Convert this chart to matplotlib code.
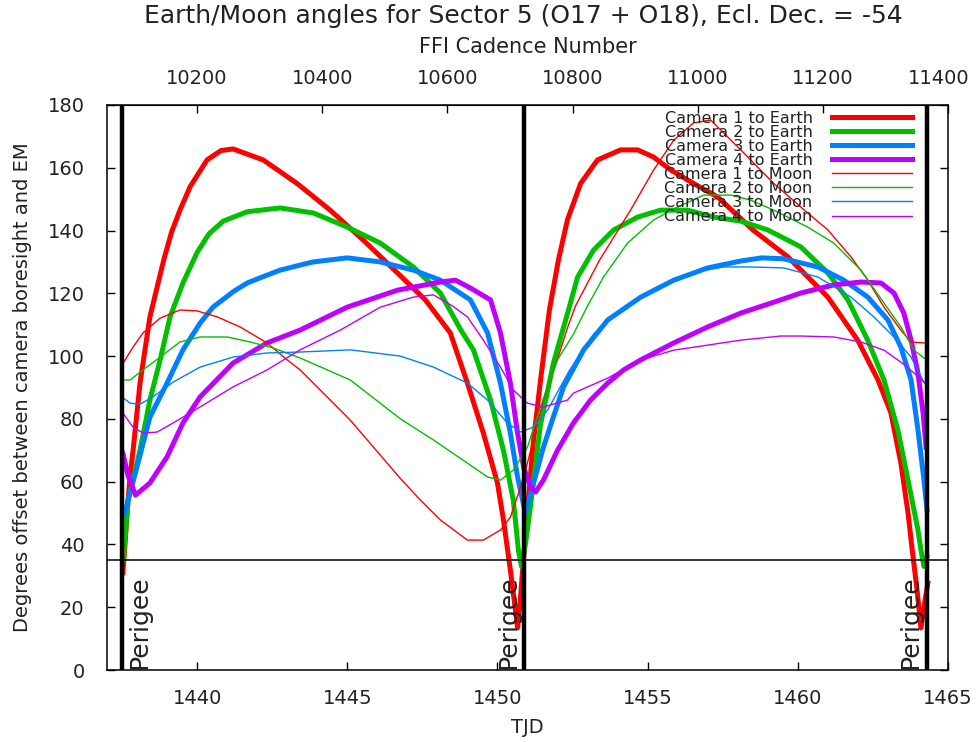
import numpy as np
import matplotlib as mpl
mpl.use("Agg")
import matplotlib.pyplot as plt
import matplotlib.transforms as mtransforms

mpl.rcParams['font.family'] = ['DejaVu Sans']

# camera -> Earth angles (thick), TJD / degrees
t_e1 = [1437.53, 1437.60, 1437.67, 1437.77, 1437.87, 1438.10, 1438.43, 1438.67, 1438.90,
        1439.15, 1439.43, 1439.77, 1440.33, 1440.80, 1441.20, 1442.20, 1443.33, 1444.43,
        1445.53, 1446.67, 1447.60, 1448.43, 1449.00, 1449.53, 1450.00, 1450.20, 1450.43,
        1450.60, 1450.67, 1450.77, 1450.83, 1450.97, 1451.20, 1451.43, 1451.73, 1452.03,
        1452.33, 1452.77, 1453.33, 1454.10, 1454.67, 1455.20, 1455.77, 1456.53, 1457.33,
        1458.53, 1459.67, 1461.00, 1462.00, 1462.67, 1463.10, 1463.43, 1463.67, 1463.80,
        1463.97, 1464.10, 1464.23, 1464.33]
a_e1 = [31, 40, 50, 62, 70, 91.4, 112.5, 122, 131,
        139.5, 146.5, 154, 162.5, 165.5, 166, 162.5, 155, 146.5,
        137, 126.5, 117.9, 107.4, 91.4, 75.5, 59.6, 47.8, 31.9,
        19, 13.4, 23.3, 30.9, 47.8, 73, 92, 114.7, 130.6,
        143.4, 155, 162.5, 165.7, 165.7, 163.4, 159.3, 155, 150.7,
        140, 131.6, 118.8, 105, 92.4, 81.9, 66, 50, 39,
        25.5, 13.4, 22, 27.7]

t_e2 = [1437.53, 1437.63, 1437.70, 1438.10, 1438.43, 1438.77, 1439.10, 1439.53, 1440.00,
        1440.40, 1440.87, 1441.67, 1442.77, 1443.87, 1445.00, 1446.10, 1447.20, 1448.10,
        1448.80, 1449.20, 1449.77, 1450.20, 1450.53, 1450.70, 1450.80, 1450.93, 1451.07,
        1451.43, 1451.87, 1452.33, 1452.67, 1453.20, 1453.87, 1454.67, 1455.43, 1456.33,
        1457.20, 1458.10, 1459.00, 1460.10, 1461.00, 1461.67, 1462.33, 1462.87, 1463.33,
        1463.67, 1464.00, 1464.10, 1464.20, 1464.30]
a_e2 = [35, 45, 54, 70, 86, 98.8, 112.5, 123.3, 133,
        139, 143, 146, 147.2, 145.6, 141.1, 136, 128.4, 120.1,
        108, 102, 86, 70, 54, 38, 33, 40, 50,
        78, 98, 113.5, 125.2, 133.8, 140.2, 144.3, 146.5, 146.5,
        144.3, 143, 140.2, 134.8, 126.5, 117.9, 105, 92.4, 76.5,
        60.5, 44.6, 38.2, 33, 36]

t_e3 = [1437.53, 1437.60, 1437.70, 1438.00, 1438.43, 1439.00, 1439.53, 1440.10, 1440.53,
        1441.20, 1441.67, 1442.33, 1442.77, 1443.43, 1443.87, 1445.00, 1446.10, 1447.20,
        1448.10, 1449.10, 1449.67, 1450.10, 1450.43, 1450.67, 1450.93, 1451.10, 1451.30,
        1451.50, 1451.77, 1452.20, 1452.87, 1453.67, 1454.77, 1455.87, 1457.00, 1458.10,
        1458.80, 1459.53, 1460.67, 1461.53, 1462.33, 1463.00, 1463.43, 1463.77, 1464.00,
        1464.20, 1464.30]
a_e3 = [49.5, 50, 54, 64.7, 80.6, 91.4, 102, 110.5, 115.6,
        120.5, 123.3, 125.8, 127.4, 129, 130, 131.3, 130, 127.4,
        124.2, 117.9, 107.4, 91.4, 75.5, 61.5, 50, 56, 63,
        70, 78, 90.2, 102, 111.5, 118.8, 124.2, 128.1, 130.3,
        131.3, 131, 128.4, 124.2, 118.8, 111.5, 102.9, 92.4, 76.5,
        60.5, 51]

t_e4 = [1437.53, 1437.70, 1437.95, 1438.43, 1439.00, 1439.53, 1440.10, 1441.20, 1442.33,
        1443.43, 1445.00, 1446.67, 1448.10, 1448.60, 1449.10, 1449.77, 1450.10, 1450.43,
        1450.67, 1450.87, 1451.10, 1451.27, 1451.53, 1452.00, 1452.53, 1453.10, 1453.67,
        1454.20, 1454.77, 1455.87, 1457.00, 1458.10, 1459.43, 1460.10, 1461.20, 1462.10,
        1462.77, 1463.20, 1463.53, 1463.77, 1464.00, 1464.17, 1464.27]
a_e4 = [69, 62, 55.7, 59.6, 67.9, 78.7, 87, 97.8, 104.2,
        108.3, 115.6, 121, 123.6, 124.2, 121.7, 117.9, 107.4, 91.4,
        75.5, 64.7, 58.3, 56.7, 60.5, 70, 78.7, 86, 91.4,
        95.6, 98.8, 104.2, 109.3, 113.7, 117.9, 120.1, 122.7, 123.6,
        123.3, 120.1, 113.7, 105.1, 94.6, 81.9, 71]

# camera -> Moon angles (thin)
t_m1 = [1437.50, 1437.87, 1438.20, 1438.77, 1439.43, 1440.00, 1440.67, 1441.43, 1442.33,
        1443.00, 1443.43, 1445.10, 1446.77, 1447.43, 1448.10, 1449.00, 1449.53, 1450.10,
        1450.43, 1450.77, 1451.00, 1451.53, 1452.10, 1452.33, 1452.60, 1453.40, 1454.43,
        1455.20, 1455.87, 1456.53, 1457.10, 1458.10, 1459.20, 1460.33, 1461.00, 1461.77,
        1462.33, 1462.87, 1463.43, 1463.77, 1464.20, 1464.30]
a_m1 = [97.2, 102.9, 107.4, 112.1, 114.7, 114.4, 112.5, 109.3, 104.2,
        98.8, 95.6, 79.6, 61, 54.2, 47.8, 41.4, 41.4, 44.6,
        48.7, 58.3, 66, 86, 102, 109, 116, 130.6, 146.5,
        159.3, 168.8, 174.3, 175.2, 165.7, 155, 145.6, 140.2, 131.6,
        124.2, 115.6, 108.3, 104.5, 104.2, 104.2]

t_m2 = [1437.50, 1437.77, 1438.20, 1438.77, 1439.43, 1440.10, 1441.00, 1441.77, 1442.53,
        1443.43, 1445.10, 1446.77, 1447.87, 1449.00, 1449.67, 1450.10, 1450.53, 1451.00,
        1451.43, 1452.00, 1452.53, 1453.00, 1453.53, 1454.00, 1454.33, 1455.20, 1456.00,
        1456.87, 1457.77, 1458.43, 1459.20, 1460.33, 1461.20, 1462.10, 1462.87, 1463.43,
        1463.87, 1464.20, 1464.30]
a_m2 = [92.4, 92.4, 95.6, 99.7, 104.5, 106.1, 106.1, 104.5, 102.6,
        99.4, 92.4, 80, 73.3, 65.9, 61.5, 60.5, 63.7, 71,
        83.8, 98.8, 107, 116, 125.2, 131.5, 136, 143.4, 147.5,
        151.3, 151.3, 149.7, 146.5, 141.1, 136, 127.4, 116.9, 109.3,
        101.9, 99.4, 99.4]

t_m3 = [1437.50, 1437.77, 1438.10, 1438.53, 1439.20, 1440.10, 1441.20, 1442.33, 1443.43,
        1445.10, 1446.77, 1447.87, 1449.00, 1449.67, 1450.33, 1450.77, 1451.20, 1451.67,
        1452.40, 1453.20, 1454.20, 1455.33, 1456.43, 1457.53, 1458.43, 1459.53, 1460.67,
        1461.77, 1462.53, 1463.20, 1463.77, 1464.20, 1464.30]
a_m3 = [87, 85, 84.7, 87, 91.7, 96.5, 99.7, 101, 101.3,
        102, 100, 96.5, 91.4, 86, 78.7, 75.8, 77.4, 82.8,
        95.5, 107, 115.6, 122, 126.5, 128.4, 128.4, 128.1, 125.2,
        118.8, 112.5, 106.1, 99.7, 91.7, 90.5]

t_m4 = [1437.50, 1437.87, 1438.20, 1438.67, 1439.20, 1440.10, 1441.20, 1442.33, 1443.43,
        1444.77, 1446.10, 1447.20, 1447.87, 1448.50, 1449.00, 1449.53, 1450.10, 1450.53,
        1451.00, 1451.53, 1452.33, 1452.53, 1453.67, 1454.77, 1455.87, 1457.00, 1458.10,
        1459.43, 1460.10, 1461.20, 1462.10, 1462.87, 1463.43, 1463.87, 1464.20, 1464.30]
a_m4 = [82.2, 77.4, 75.5, 75.8, 78.7, 83.8, 90.2, 95.6, 102,
        108.3, 115.6, 118.8, 119.5, 116, 112.5, 105.1, 96.5, 89.2,
        85, 83.8, 86, 88.2, 93, 98.8, 101.9, 103.5, 105.1,
        106.4, 106.4, 106.1, 104.5, 101.9, 98.1, 94.6, 91.7, 91]

perigees = [1437.5, 1450.9, 1464.3]
limit_angle = 35

colors = ['#ff0000', '#00c000', '#0080ff', '#c000ff']
earth = [(t_e1, a_e1), (t_e2, a_e2), (t_e3, a_e3), (t_e4, a_e4)]
moon = [(t_m1, a_m1), (t_m2, a_m2), (t_m3, a_m3), (t_m4, a_m4)]
txt_col = '#222222'


def tjd2cad(t):
    return 11400 + (np.asarray(t) - 1465.0) * 48.0


def cad2tjd(c):
    return 1465.0 + (np.asarray(c) - 11400) / 48.0


fig = plt.figure(figsize=(9.76, 7.42), dpi=100)
ax = fig.add_axes([0.1096, 0.0970, 0.8617, 0.7615])

for i, (t, a) in enumerate(earth):
    ax.plot(t, a, color=colors[i], lw=3.6, solid_joinstyle='round',
            label='Camera %d to Earth' % (i + 1))
for i, (t, a) in enumerate(moon):
    ax.plot(t, a, color=colors[i], lw=1.0, label='Camera %d to Moon' % (i + 1))

ax.axhline(limit_angle, color='black', lw=1.1, zorder=5)
for k, p in enumerate(perigees):
    ax.axvline(p, color='black', lw=3.2, zorder=6)
    # first label sits right of its line, the others left of theirs
    if k == 0:
        off, ha = 4, 'left'
    else:
        off, ha = -3, 'right'
    ax.annotate('Perigee', xy=(p, 0), xytext=(off, 1), textcoords='offset points',
                rotation=90, ha=ha, va='bottom', fontsize=18, color=txt_col)

ax.set_xlim(1437, 1465)
ax.set_ylim(0, 180)
ax.set_xticks(np.arange(1440, 1466, 5))
ax.set_yticks(np.arange(0, 181, 20))
ax.tick_params(direction='in', length=6, width=1, labelsize=14, right=True,
               colors='black', labelcolor=txt_col)
ax.tick_params(axis='x', pad=14)
ax.tick_params(axis='y', pad=16)
for s in ax.spines.values():
    s.set_linewidth(1.1)

ax.set_xlabel('TJD', fontsize=14, color=txt_col, labelpad=7)
ax.set_ylabel('Degrees offset between camera boresight and EM', fontsize=14,
              color=txt_col, labelpad=11)

top = ax.secondary_xaxis('top', functions=(tjd2cad, cad2tjd))
top.set_xticks(np.arange(10200, 11401, 200))
top.tick_params(direction='in', length=6, width=1, labelsize=14, pad=12, labelcolor=txt_col)
top.set_xlabel('FFI Cadence Number', fontsize=15, color=txt_col, labelpad=12)

# pull the last cadence label in a little so it stays inside the figure
fig.canvas.draw()
last = top.xaxis.get_major_ticks()[-1]
shift = mtransforms.ScaledTranslation(-7 / 72, 0, fig.dpi_scale_trans)
for lab in (last.label1, last.label2):
    lab.set_transform(lab.get_transform() + shift)

# title centred over the plot area rather than the figure
fig.suptitle('Earth/Moon angles for Sector 5 (O17 + O18), Ecl. Dec. = -54',
             fontsize=18, x=0.536, y=0.995, color=txt_col)

leg = ax.legend(loc='upper right', bbox_to_anchor=(0.9643, 1.001), frameon=False,
                markerfirst=False, fontsize=11.5, labelspacing=-0.06,
                handlelength=5.0, handletextpad=1.2, borderaxespad=0.0)
for txt in leg.get_texts():
    txt.set_ha('right')
    txt.set_color(txt_col)

fig.savefig('out.png', dpi=100)
